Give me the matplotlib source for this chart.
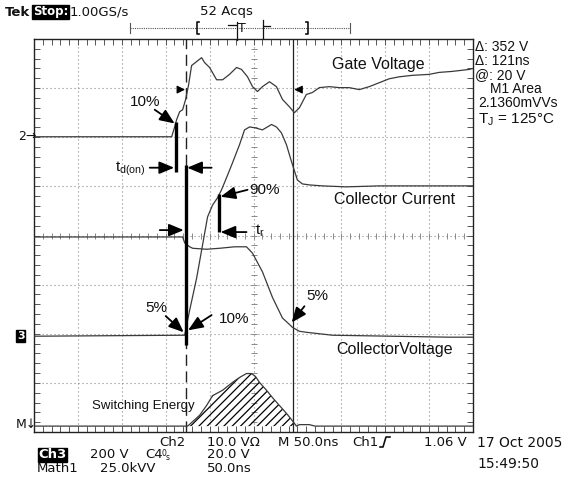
import numpy as np
import matplotlib
matplotlib.use("Agg")
import matplotlib.pyplot as plt
from matplotlib.lines import Line2D

# ---------------- data (time in ns, amplitude in divisions) ----------------
gate_t = [0, 154.5, 156.8, 160.2, 162.5, 165.9, 169.3, 172.7, 176.1, 179.5, 185.2, 190.9,
          194.3, 200, 208, 214.8, 222.7, 230.7, 236.4, 243.2, 248.9, 254.5, 260.2, 268.2,
          276.1, 283, 290.9, 296.6, 302.3, 310.2, 317, 325, 336.4, 347.7, 359, 370.5,
          381.8, 393.2, 404.5, 415.9, 430.7, 450, 461.4, 476.1, 495.5, 500]
gate_v = [2.01, 2.01, 2.01, 2.21, 2.36, 2.52, 2.56, 2.77, 3.07, 3.46, 3.54, 3.62,
          3.52, 3.42, 3.17, 3.17, 3.28, 3.42, 3.38, 3.23, 3.03, 2.93, 3.03, 3.13,
          3.03, 2.77, 2.62, 2.50, 2.60, 2.87, 2.91, 3.01, 3.03, 3.01, 3.01, 2.97,
          3.03, 3.11, 3.19, 3.23, 3.26, 3.28, 3.32, 3.34, 3.38, 3.40]

ic_t = [0, 171.6, 177.3, 185.2, 192, 197.7, 203.4, 209.1, 213.6, 220.5, 226.1, 234.1,
        239.8, 245.5, 252.3, 260.2, 265.9, 270.5, 276.1, 281.8, 287.5, 292, 295.5, 300,
        305.7, 313.6, 328.4, 355.7, 393.2, 450, 500]
ic_v = [-2.05, -2.03, -1.52, -0.87, -0.19, 0.38, 0.62, 0.77, 0.93, 1.23, 1.48, 1.85,
        2.15, 2.21, 2.19, 2.15, 2.21, 2.26, 2.21, 2.09, 1.85, 1.58, 1.38, 1.13,
        1.05, 1.03, 1.01, 0.99, 1.01, 1.01, 1.01]

vce_t = [0, 169.3, 171.6, 177.3, 180.7, 196.6, 211.4, 228.4, 242, 248.9, 260.2, 271.6,
         283, 290.9, 294.3, 302.3, 310.2, 339.8, 472.7, 500]
vce_v = [-0.03, -0.03, -0.15, -0.23, -0.26, -0.28, -0.26, -0.23, -0.23, -0.36, -0.74, -1.26,
         -1.68, -1.81, -1.87, -1.95, -1.97, -2.03, -2.07, -2.07]

e_t = [0, 175, 188.6, 196.6, 203.4, 214.8, 226.1, 234.1, 242, 247.7, 252.3, 256.8,
       264.8, 271.6, 279.5, 287.5, 294.3, 298.9, 302.3, 313.6, 320, 500]
e_v = [-3.88, -3.88, -3.66, -3.46, -3.26, -3.15, -2.99, -2.89, -2.81, -2.81, -2.87, -2.99,
       -3.15, -3.30, -3.46, -3.62, -3.77, -3.88, -3.85, -3.85, -3.88, -3.88]
e_base = -3.88

cursor_dash_t = 172.7
cursor_solid_t = 295.5

W, H = 584, 483
fig = plt.figure(figsize=(W / 100, H / 100), dpi=100)
ax = fig.add_axes([34 / W, 1 - 432 / H, 439 / W, 393 / H])
ax.set_xlim(0, 500)
ax.set_ylim(-4, 4)

trace_col = "#3a3a3a"
grid_col = "#8a8a8a"

# grid
for gx in np.arange(50, 500, 50):
    ax.axvline(gx, color=grid_col, lw=0.8, ls=(0, (1, 2.6)), zorder=1)
for gy in np.arange(-3, 4, 1):
    ax.axhline(gy, color=grid_col, lw=0.8, ls=(0, (1, 2.6)), zorder=1)
# center cross ticks
mt = np.arange(0, 500.1, 10)
ax.plot(mt, np.zeros_like(mt), ls="none", marker="|", ms=5, mew=0.7, color=grid_col, zorder=1)
my = np.arange(-4, 4.01, 0.2)
ax.plot(np.full_like(my, 250), my, ls="none", marker="_", ms=5, mew=0.7, color=grid_col, zorder=1)

ax.set_xticks(np.arange(0, 501, 10), minor=True)
ax.set_yticks(np.arange(-4, 4.01, 0.2), minor=True)
ax.set_xticks([])
ax.set_yticks([])
ax.tick_params(which="minor", direction="in", length=4, width=0.7, color="#555",
               top=True, bottom=True, left=True, right=True,
               labelbottom=False, labelleft=False)
for s in ax.spines.values():
    s.set_linewidth(1.0)
    s.set_color("#222")

# traces
ax.plot(gate_t, gate_v, color=trace_col, lw=0.9, zorder=3)
ax.plot(ic_t, ic_v, color=trace_col, lw=0.9, zorder=3)
ax.plot(vce_t, vce_v, color=trace_col, lw=0.9, zorder=3)
ax.plot(e_t, e_v, color=trace_col, lw=0.9, zorder=3)
plt.rcParams["hatch.linewidth"] = 0.9
ax.fill_between(e_t, e_v, e_base, where=[(t >= 175 and t <= 299) for t in e_t],
                facecolor="none", edgecolor="k", hatch="////", lw=0, zorder=2)

# cursors
ax.axvline(cursor_dash_t, color="#222", lw=1.0, ls=(0, (8, 4)), zorder=2)
ax.axvline(cursor_solid_t, color="#222", lw=0.9, zorder=2)

# thick marker bars
bar_t = [161.4, 172.7, 210.2]
bar_lo = [1.30, -2.23, 0.07]
bar_hi = [2.32, 1.44, 0.85]
ax.vlines(bar_t, bar_lo, bar_hi, color="k", lw=2.4, zorder=4)

afont = dict(family="Liberation Sans", color="#111")
big = dict(arrowstyle="-|>,head_length=0.6,head_width=0.25", color="k", lw=1.3,
           mutation_scale=15, shrinkA=0, shrinkB=0)
small = dict(arrowstyle="-|>,head_length=0.6,head_width=0.3", color="k", lw=0.8,
             mutation_scale=8, shrinkA=0, shrinkB=0)

def arr(x0, y0, x1, y1, props=big):
    ax.annotate("", xy=(x1, y1), xytext=(x0, y0), arrowprops=props, zorder=5)

ax.text(126, 2.72, "10%", fontsize=11, ha="center", va="center", **afont)
arr(137.5, 2.56, 160.2, 2.28)
ax.text(110, 1.36, r"t$_\mathregular{d(on)}$", fontsize=11, ha="center", va="center", **afont)
arr(131.8, 1.38, 159.6, 1.38)
arr(202.3, 1.38, 174.5, 1.38)
ax.text(262.5, 0.93, "90%", fontsize=11, ha="center", va="center", **afont)
arr(243.2, 0.93, 212.5, 0.79)
ax.text(252, 0.09, r"t$_\mathregular{r}$", fontsize=11, ha="left", va="center", **afont)
arr(242, 0.07, 212.5, 0.07)
arr(143.2, 0.11, 170.5, 0.11)
ax.text(139.8, -1.48, "5%", fontsize=11, ha="center", va="center", **afont)
arr(150, -1.64, 170.5, -1.97)
ax.text(228.4, -1.70, "10%", fontsize=11, ha="center", va="center", **afont)
arr(202.3, -1.62, 175.5, -1.93)
ax.text(322.7, -1.23, "5%", fontsize=11, ha="center", va="center", **afont)
arr(308, -1.44, 293.5, -1.77)

# cursor level markers
arr(164, 2.97, 172, 2.97, small)
arr(305, 2.97, 296.5, 2.97, small)

ax.text(339.8, 3.49, "Gate Voltage", fontsize=11.5, ha="left", va="center", **afont)
ax.text(342, 0.74, "Collector Current", fontsize=11.5, ha="left", va="center", **afont)
ax.text(344, -2.32, "CollectorVoltage", fontsize=11.5, ha="left", va="center", **afont)
ax.text(66, -3.48, "Switching Energy", fontsize=9.5, ha="left", va="center", **afont)

# ---------------- scope annotations (figure pixel placement) ----------------
def P(x, y):
    return x / W, 1 - y / H

sfont = dict(family="DejaVu Sans", color="#111")
fig.text(*P(5, 12), "Tek", fontsize=9.5, fontweight="bold", va="center", **sfont)
fig.text(*P(33, 12), "Stop:", fontsize=8.5, fontweight="bold", va="center", color="white",
         family="DejaVu Sans", bbox=dict(facecolor="black", edgecolor="black", pad=0.4))
fig.text(*P(70, 12), "1.00GS/s", fontsize=9.5, va="center", **sfont)
fig.text(*P(200, 12), "52 Acqs", fontsize=9.5, va="center", **sfont)

# record ruler
def fl(xs, ys, **kw):
    fx = [x / W for x in xs]
    fy = [1 - y / H for y in ys]
    fig.add_artist(Line2D(fx, fy, transform=fig.transFigure, **kw))

fl([130, 350], [28, 28], color="#555", lw=0.8, ls=(0, (1, 1)))
fl([130, 130], [23, 33], color="#555", lw=0.8)
fl([350, 350], [23, 33], color="#555", lw=0.8)
fl([199, 197, 197, 199], [22, 22, 34, 34], color="#111", lw=1.2)
fl([306, 308, 308, 306], [22, 22, 34, 34], color="#111", lw=1.2)
fl([237, 237], [22, 40], color="#111", lw=0.9)
fig.text(*P(238, 29), "T", fontsize=9, va="center", **sfont)
fl([228, 236], [25, 25], color="#111", lw=0.9)
fl([263, 263], [20, 38], color="#111", lw=0.9)
fl([263, 270], [26, 26], color="#111", lw=0.9)

# right side readouts
rfont = dict(family="Liberation Sans", color="#111")
fig.text(*P(475, 47), "Δ: 352 V", fontsize=10, va="center", **rfont)
fig.text(*P(475, 61), "Δ: 121ns", fontsize=10, va="center", **rfont)
fig.text(*P(475, 75), "@: 20 V", fontsize=10, va="center", **rfont)
fig.text(*P(490, 89), "M1 Area", fontsize=10, va="center", **rfont)
fig.text(*P(478, 103), "2.1360mVVs", fontsize=10, va="center", **rfont)
fig.text(*P(478, 120), r"T$_\mathregular{J}$ = 125°C", fontsize=11, va="center", **rfont)

# channel markers
fig.text(*P(18, 137), "2→", fontsize=9, va="center", **sfont)
fig.text(*P(17, 336), "3", fontsize=8, fontweight="bold", va="center", color="white",
         family="DejaVu Sans", bbox=dict(facecolor="black", edgecolor="black", pad=0.5))
fig.text(*P(16, 424), "M↓", fontsize=9, va="center", **sfont)

# bottom readouts
fig.text(*P(159, 442), "Ch2", fontsize=9.5, va="center", **sfont)
fig.text(*P(207, 442), "10.0 VΩ", fontsize=9.5, va="center", **sfont)
fig.text(*P(278, 442), "M 50.0ns", fontsize=9.5, va="center", **sfont)
fig.text(*P(352, 442), "Ch1", fontsize=9.5, va="center", **sfont)
fl([380, 383, 386, 390], [447, 447, 437, 437], color="#111", lw=1.2)
fig.text(*P(467, 442), "1.06 V", fontsize=9.5, va="center", ha="right", **sfont)
fig.text(*P(477, 443), "17 Oct 2005", fontsize=10, va="center", **sfont)
fig.text(*P(477, 464), "15:49:50", fontsize=10, va="center", **sfont)

fig.text(*P(38, 455), "Ch3", fontsize=9.5, fontweight="bold", va="center", color="white",
         family="DejaVu Sans", bbox=dict(facecolor="black", edgecolor="black", pad=0.3))
fig.text(*P(90, 455), "200 V", fontsize=9.5, va="center", **sfont)
fig.text(*P(145, 455), "C4", fontsize=9.5, va="center", **sfont)
fig.text(*P(162, 453), "0", fontsize=5.5, va="center", **sfont)
fig.text(*P(166, 457), "s", fontsize=5.5, va="center", **sfont)
fig.text(*P(207, 455), "20.0 V", fontsize=9.5, va="center", **sfont)
fig.text(*P(37, 469), "Math1", fontsize=9.5, va="center", **sfont)
fig.text(*P(100, 469), "25.0kVV", fontsize=9.5, va="center", **sfont)
fig.text(*P(207, 469), "50.0ns", fontsize=9.5, va="center", **sfont)

fig.savefig("out.png", dpi=100)
